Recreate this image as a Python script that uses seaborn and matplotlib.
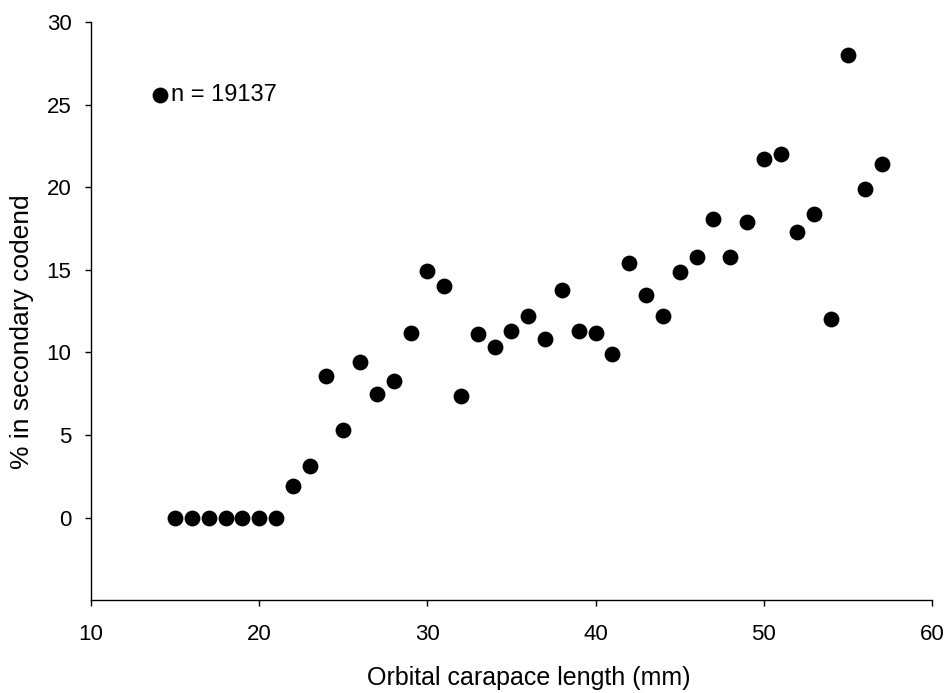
import matplotlib
matplotlib.use("Agg")
import matplotlib.pyplot as plt
import seaborn as sns
import pandas as pd

length_mm = list(range(15, 58))
pct_secondary = [0, 0, 0, 0, 0, 0, 0,
                 1.9, 3.1, 8.6, 5.3, 9.45, 7.5, 8.3, 11.2, 14.95, 14.0, 7.35,
                 11.1, 10.3, 11.3, 12.2, 10.8, 13.8, 11.3, 11.2, 9.9, 15.4,
                 13.5, 12.2, 14.9, 15.8, 18.1, 15.8, 17.9, 21.7, 22.0, 17.3,
                 18.4, 12.05, 28.0, 19.9, 21.4]
legend_label = "n = 19137"
x_label = "Orbital carapace length (mm)"
y_label = "% in secondary codend"
x_ticks = [10, 20, 30, 40, 50, 60]
y_ticks = [0, 5, 10, 15, 20, 25, 30]

df = pd.DataFrame({"x": length_mm, "y": pct_secondary})

sns.set_theme(style="ticks")
plt.rcParams["font.family"] = ["Liberation Sans", "DejaVu Sans"]
plt.rcParams["text.color"] = "black"
plt.rcParams["axes.labelcolor"] = "black"
plt.rcParams["xtick.color"] = "black"
plt.rcParams["ytick.color"] = "black"

fig = plt.figure(figsize=(9.51, 6.93), dpi=100)
ax = fig.add_axes([0.0957, 0.134, 0.8843, 0.834])

sns.scatterplot(data=df, x="x", y="y", ax=ax, color="black", s=130,
                edgecolor="black", linewidth=0, label=legend_label)

ax.set_xlim(10, 60)
ax.set_ylim(-5, 30)
ax.set_xticks(x_ticks)
ax.set_yticks(y_ticks)
ax.set_xlabel(x_label, fontsize=18, labelpad=15, color="black")
ax.set_ylabel(y_label, fontsize=19, labelpad=9, color="black")
ax.xaxis.label.set_x(0.521)
ax.yaxis.label.set_y(0.465)
ax.tick_params(axis="both", labelsize=16, length=4, width=1, colors="black",
               direction="out")
ax.tick_params(axis="x", pad=13)
ax.tick_params(axis="y", pad=10)
for side in ["top", "right"]:
    ax.spines[side].set_visible(False)
for side in ["left", "bottom"]:
    ax.spines[side].set_color("black")
    ax.spines[side].set_linewidth(1)

leg = ax.legend(loc="center left", bbox_to_anchor=(0.0709, 0.874), frameon=False,
                fontsize=17, handlelength=0.8, handletextpad=0.05, borderpad=0,
                borderaxespad=0, markerscale=1)
for t in leg.get_texts():
    t.set_color("black")

fig.savefig("out.png", dpi=100, facecolor="white")
